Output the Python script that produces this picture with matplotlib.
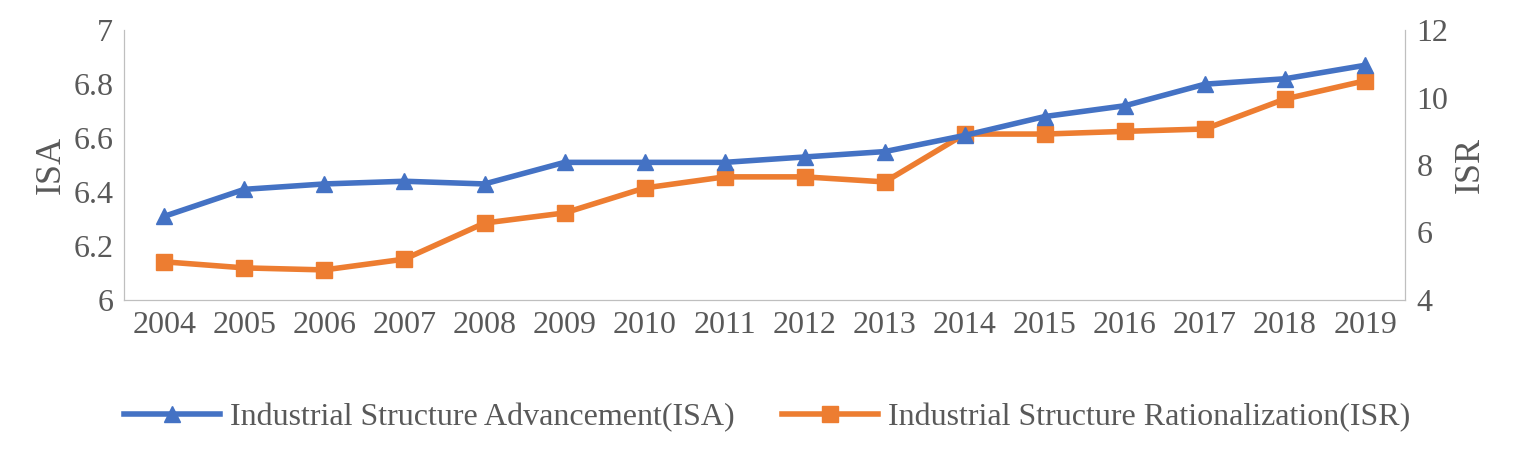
import matplotlib.pyplot as plt

years = [str(y) for y in range(2004, 2020)]
isa = [6.31, 6.41, 6.43, 6.44, 6.43, 6.51, 6.51, 6.51, 6.53, 6.55, 6.61, 6.68, 6.72, 6.80, 6.82, 6.87]
isr = [5.13, 4.95, 4.89, 5.21, 6.28, 6.58, 7.32, 7.65, 7.65, 7.50, 8.92, 8.92, 9.00, 9.07, 9.96, 10.50]

plt.rcParams['font.family'] = ['Liberation Serif', 'DejaVu Serif']

fig = plt.figure(figsize=(15.34, 4.51), dpi=100)
ax = fig.add_axes([0.081, 0.335, 0.835, 0.598])
ax2 = ax.twinx()

blue = '#4472C4'
orange = '#ED7D31'
l1, = ax.plot(years, isa, color=blue, lw=4, marker='^', ms=11, label='Industrial Structure Advancement(ISA)', zorder=3)
l2, = ax2.plot(years, isr, color=orange, lw=4, marker='s', ms=11, label='Industrial Structure Rationalization(ISR)')
ax.set_zorder(2)
ax.patch.set_visible(False)

ax.set_ylim(6, 7)
ax.set_yticks([6, 6.2, 6.4, 6.6, 6.8, 7])
ax.set_yticklabels(['6', '6.2', '6.4', '6.6', '6.8', '7'])
ax2.set_ylim(4, 12)
ax2.set_yticks([4, 6, 8, 10, 12])
ax.set_xlim(-0.5, 15.5)

for a in (ax, ax2):
    a.tick_params(length=0, labelsize=23, colors='#595959', pad=8)
    a.spines['top'].set_visible(False)
    for s in ('left', 'right', 'bottom'):
        a.spines[s].set_color('#BFBFBF')
ax.set_ylabel('ISA', fontsize=26, color='#595959')
ax2.set_ylabel('ISR', fontsize=26, color='#595959')

fig.legend(handles=[l1, l2], loc='center', bbox_to_anchor=(0.5, 0.075), ncol=2,
           frameon=False, fontsize=23, labelcolor='#595959', handlelength=3,
           handletextpad=0.3, columnspacing=1.5)

fig.savefig('out.png')
